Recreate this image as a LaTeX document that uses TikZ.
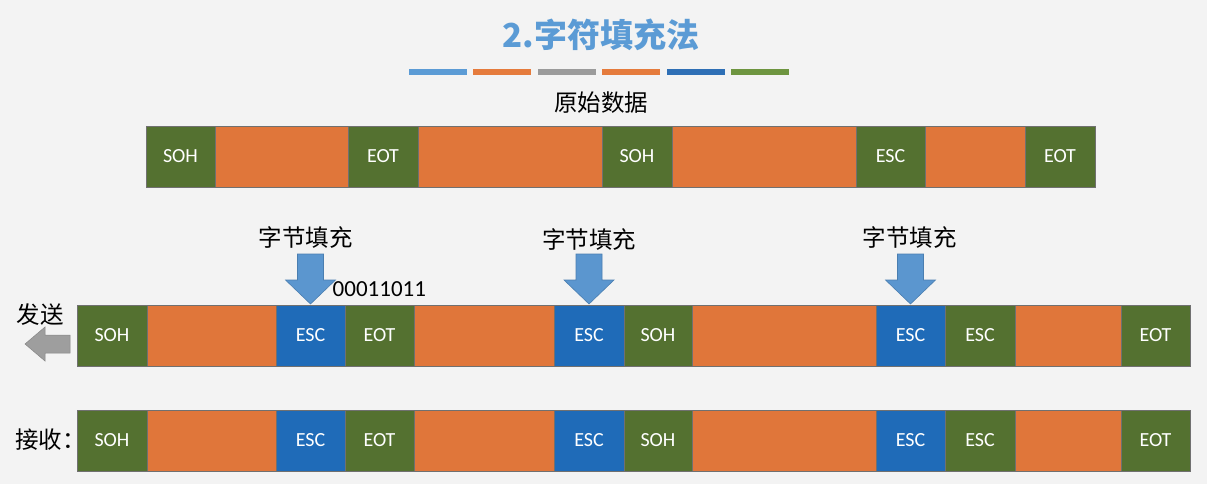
\documentclass[tikz,border=0pt]{standalone}
\usepackage{fontspec}
\setmainfont{Carlito}
\newfontfamily\cjk{Noto Sans CJK SC}
\usetikzlibrary{calc}

\definecolor{segGreen}{HTML}{547130}
\definecolor{segOrange}{HTML}{E0763A}
\definecolor{segBlue}{HTML}{1F6BB8}
\definecolor{segEdge}{HTML}{707070}
\definecolor{arrowBlue}{HTML}{5B96CF}
\definecolor{arrowEdge}{HTML}{4A7EB0}
\definecolor{titleBlue}{HTML}{5B9BD5}
\definecolor{pageBg}{HTML}{F3F3F3}
\definecolor{sendGray}{HTML}{9E9E9E}
\definecolor{barBlue}{HTML}{5B9BD5}
\definecolor{barOrange}{HTML}{E57B3C}
\definecolor{barGray}{HTML}{9B9B9B}
\definecolor{barDark}{HTML}{2E6FB5}
\definecolor{barGreen}{HTML}{6E9540}

\begin{document}
\begin{tikzpicture}[x=1pt,y=-1pt,
  seg/.style={draw=segEdge, line width=0.8pt, minimum height=61pt,
    inner sep=0pt, outer sep=0pt, text=white, anchor=west,
    font=\fontsize{20}{24}\selectfont},
  grn/.style={seg, fill=segGreen},
  org/.style={seg, fill=segOrange},
  blu/.style={seg, fill=segBlue},
  lbl/.style={inner sep=0pt, font=\cjk\fontsize{23.5}{27}\selectfont},
  barrow/.style={fill=arrowBlue, draw=arrowEdge, line width=0.6pt},
  garrow/.style={fill=sendGray, draw=sendGray!85!black, line width=0.5pt},
  colbar/.style={minimum width=58pt, minimum height=6pt, inner sep=0pt},
  stuffarrow/.pic={
    \draw[barrow] (-13,-51) -- (13,-51) -- (13,-25) -- (25,-25)
      -- (0,-1) -- (-25,-25) -- (-13,-25) -- cycle;
  },
  sendarrow/.pic={
    \draw[garrow] (-7,-0.5) -- (-7,17.5) -- (-32,17.5) -- (-32,25.5)
      -- (-52,8.5) -- (-32,-8.5) -- (-32,-0.5) -- cycle;
  }
]
% page background and frame
\fill[pageBg] (0,0) rectangle (1207,484);
\useasboundingbox (0,0) rectangle (1207,484);

% title and decorative colour strip
\node[text=titleBlue, font=\cjk\bfseries\fontsize{33}{38}\selectfont]
  (title) at (601,35) {2.字符填充法};
\foreach \c [count=\i from 0] in {barBlue,barOrange,barGray,barOrange,barDark,barGreen}
  \node[colbar, fill=\c] (bar\i) at ({437.5+64.5*\i},72.5) {};

% original data frame
\node[lbl] (orig) at (601,103) {原始数据};
\node[grn, minimum width=69pt] (t1) at (146,156.5) {SOH};
\node[org, minimum width=133pt] (t2) at (t1.east) {};
\node[grn, minimum width=70pt] (t3) at (t2.east) {EOT};
\node[org, minimum width=184pt] (t4) at (t3.east) {};
\node[grn, minimum width=70pt] (t5) at (t4.east) {SOH};
\node[org, minimum width=184pt] (t6) at (t5.east) {};
\node[grn, minimum width=69pt] (t7) at (t6.east) {ESC};
\node[org, minimum width=100pt] (t8) at (t7.east) {};
\node[grn, minimum width=70pt] (t9) at (t8.east) {EOT};

% frame as sent, with stuffed ESC bytes
\node[grn, minimum width=70pt] (s1) at (77,335.5) {SOH};
\node[org, minimum width=129pt] (s2) at (s1.east) {};
\node[blu, minimum width=69pt] (s3) at (s2.east) {ESC};
\node[grn, minimum width=69pt] (s4) at (s3.east) {EOT};
\node[org, minimum width=140pt] (s5) at (s4.east) {};
\node[blu, minimum width=70pt] (s6) at (s5.east) {ESC};
\node[grn, minimum width=68pt] (s7) at (s6.east) {SOH};
\node[org, minimum width=184pt] (s8) at (s7.east) {};
\node[blu, minimum width=69pt] (s9) at (s8.east) {ESC};
\node[grn, minimum width=70pt] (s10) at (s9.east) {ESC};
\node[org, minimum width=106pt] (s11) at (s10.east) {};
\node[grn, minimum width=69pt] (s12) at (s11.east) {EOT};

% frame as received
\node[grn, minimum width=70pt] (r1) at (77,440.5) {SOH};
\node[org, minimum width=129pt] (r2) at (r1.east) {};
\node[blu, minimum width=69pt] (r3) at (r2.east) {ESC};
\node[grn, minimum width=69pt] (r4) at (r3.east) {EOT};
\node[org, minimum width=140pt] (r5) at (r4.east) {};
\node[blu, minimum width=70pt] (r6) at (r5.east) {ESC};
\node[grn, minimum width=68pt] (r7) at (r6.east) {SOH};
\node[org, minimum width=184pt] (r8) at (r7.east) {};
\node[blu, minimum width=69pt] (r9) at (r8.east) {ESC};
\node[grn, minimum width=70pt] (r10) at (r9.east) {ESC};
\node[org, minimum width=106pt] (r11) at (r10.east) {};
\node[grn, minimum width=69pt] (r12) at (r11.east) {EOT};

% byte-stuffing markers
\pic at (s3.north) {stuffarrow};
\pic at (s6.north) {stuffarrow};
\pic at (s9.north) {stuffarrow};
\node[lbl] (f1) at ($(s3.north)+(-5,-67)$) {字节填充};
\node[lbl] (f2) at ($(s6.north)+(0,-65)$) {字节填充};
\node[lbl] (f3) at ($(s9.north)+(-1,-67)$) {字节填充};
\node[anchor=west, inner sep=0pt, font=\fontsize{23}{27}\selectfont]
  (code) at ($(s3.north)+(22,-16)$) {00011011};

% send / receive labels
\pic at (s1.west) {sendarrow};
\node[lbl] (send) at (40,315) {发送};
\node[lbl, anchor=west] (recv) at (15,440) {接收：};
\end{tikzpicture}
\end{document}
